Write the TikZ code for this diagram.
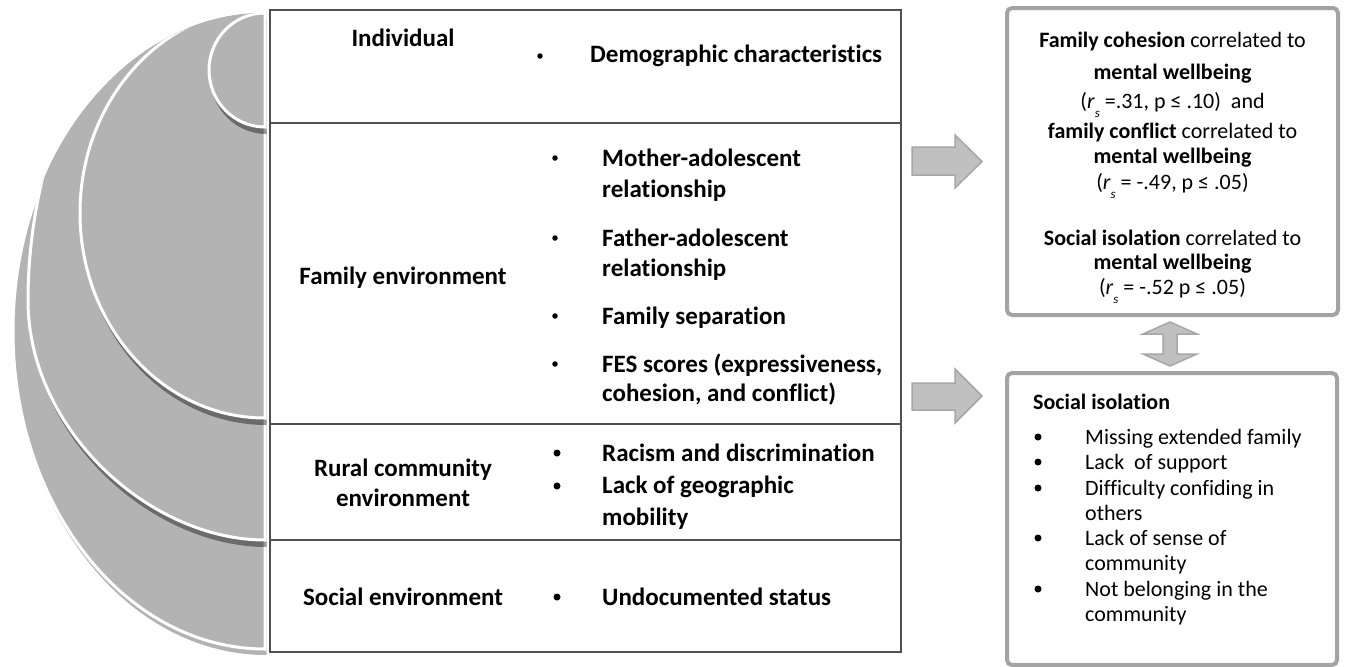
\documentclass[tikz,border=0pt]{standalone}
\usepackage{fontspec}
\setmainfont{Carlito}[Ligatures=CommonOff]
\definecolor{ringfill}{HTML}{B3B3B3}
\definecolor{rulegray}{HTML}{505050}
\definecolor{boxrim}{HTML}{A3A3A3}
\definecolor{arrowfill}{HTML}{C0C0C0}
\definecolor{arrowrim}{HTML}{A6A6A6}
\begin{document}
\begin{tikzpicture}[x=1pt,y=-1pt,
  ring/.style={fill=ringfill,draw=white,line width=3pt},
  ringshadow/.style={fill=black,fill opacity=0.4,shift={(1.5,7)}},
  tabline/.style={draw=rulegray,line width=1.3pt},
  lab/.style={font=\fontsize{25}{30}\selectfont\bfseries,inner sep=0pt,anchor=base},
  item/.style={font=\fontsize{25}{30}\selectfont\bfseries,inner sep=0pt,anchor=base west},
  dotsmall/.style={circle,fill=black,inner sep=0pt,minimum size=5.5pt},
  dotbig/.style={circle,fill=black,inner sep=0pt,minimum size=7pt},
  boxtext/.style={font=\fontsize{22}{26}\selectfont,inner sep=0pt,anchor=base},
  listtext/.style={font=\fontsize{22}{26}\selectfont,inner sep=0pt,anchor=base west},
  panel/.style={draw=boxrim,line width=4pt,rounded corners=5pt,fill=white},
  blockarrow/.style={fill=arrowfill,draw=arrowrim,line width=1.5pt,line join=miter},
]
\useasboundingbox (0,0) rectangle (1345,667);
\fill[white] (0,0) rectangle (1345,667);

% ---- nested half discs on the left ----
\fill[black,fill opacity=0.3,shift={(1.5,6)}] (265,13) arc[start angle=270,end angle=90,x radius=252,y radius=318] -- cycle;
\path[ring] (265,13) arc[start angle=270,end angle=90,x radius=252,y radius=318] -- cycle;
\begin{scope}
  \clip (265,13) arc[start angle=270,end angle=90,x radius=252,y radius=318] -- (272,649) -- (272,13) -- cycle;
  % rural community
  \fill[ringshadow] (265,540) .. controls (150,540) and (28,430) .. (28,300)
        .. controls (28,200) and (60,60) .. (150,0) -- (265,-10) -- cycle;
  \path[ring] (265,540) .. controls (150,540) and (28,430) .. (28,300)
        .. controls (28,200) and (60,60) .. (150,0) -- (265,-10) -- cycle;
  % family
  \fill[ringshadow] (265,8) arc[start angle=270,end angle=90,x radius=185,y radius=205] -- cycle;
  \path[ring] (265,8) arc[start angle=270,end angle=90,x radius=185,y radius=205] -- cycle;
  % individual
  \fill[ringshadow] (265,13) arc[start angle=270,end angle=90,x radius=56,y radius=57] -- cycle;
  \path[ring] (265,13) arc[start angle=270,end angle=90,x radius=56,y radius=57] -- cycle;
\end{scope}

% ---- table ----
\draw[tabline] (270,10) rectangle (901,652);
\draw[tabline] (270,123) -- (901,123);
\draw[tabline] (270,424) -- (901,424);
\draw[tabline] (270,540) -- (901,540);

% row: individual
\node[lab] (lind) at (403,46) {Individual};
\node[dotsmall] (bind) at (540,56) {};
\node[item] (tind) at (590,62) {Demographic characteristics};

% row: family
\node[lab] (lfam) at (403,284) {Family environment};
\node[dotsmall] (bfam1) at (555,158) {};
\node[item] (tfam1a) at (602,166) {Mother-adolescent};
\node[item] (tfam1b) at (602,197) {relationship};
\node[dotsmall] (bfam2) at (555,238) {};
\node[item] (tfam2a) at (602,246) {Father-adolescent};
\node[item] (tfam2b) at (602,276) {relationship};
\node[dotsmall] (bfam3) at (555,316) {};
\node[item] (tfam3) at (602,324) {Family separation};
\node[dotsmall] (bfam4) at (555,364) {};
\node[item] (tfam4a) at (602,372) {FES scores (expressiveness,};
\node[item] (tfam4b) at (602,401) {cohesion, and conflict)};

% row: rural community
\node[lab] (lrur1) at (403,476) {Rural community};
\node[lab] (lrur2) at (403,506) {environment};
\node[dotbig] (brur1) at (557,453) {};
\node[item] (trur1) at (602,461) {Racism and discrimination};
\node[dotbig] (brur2) at (557,486) {};
\node[item] (trur2a) at (602,493) {Lack of geographic};
\node[item] (trur2b) at (602,525) {mobility};

% row: social
\node[lab] (lsoc) at (403,605) {Social environment};
\node[dotbig] (bsoc) at (557,597) {};
\node[item] (tsoc) at (602,605) {Undocumented status};

% ---- block arrows ----
\path[blockarrow] (912,147) -- (955,147) -- (955,135) -- (982,161.5) -- (955,188) -- (955,175) -- (912,175) -- cycle;
\path[blockarrow] (912,383) -- (955,383) -- (955,369) -- (982,396) -- (955,423) -- (955,410) -- (912,410) -- cycle;

% ---- results panel ----
\path[panel] (1007,8) rectangle (1338,315);
\node[boxtext] (r1) at (1172.5,47) {\textbf{Family cohesion} correlated to};
\node[boxtext] (r2) at (1172.5,79) {\textbf{mental wellbeing}};
\node[boxtext] (r3) at (1172.5,108) {(\textit{r}\raisebox{-0.45em}{\fontsize{13}{13}\selectfont\textit{s}} =.31, p ≤ .10)\ \ and};
\node[boxtext] (r4) at (1172.5,138) {\textbf{family conflict} correlated to};
\node[boxtext] (r5) at (1172.5,163) {\textbf{mental wellbeing}};
\node[boxtext] (r6) at (1172.5,189) {(\textit{r}\raisebox{-0.45em}{\fontsize{13}{13}\selectfont\textit{s}} = -.49, p ≤ .05)};
\node[boxtext] (r7) at (1172.5,245) {\textbf{Social isolation} correlated to};
\node[boxtext] (r8) at (1172.5,269) {\textbf{mental wellbeing}};
\node[boxtext] (r9) at (1172.5,294) {(\textit{r}\raisebox{-0.45em}{\fontsize{13}{13}\selectfont\textit{s}} = -.52 p ≤ .05)};

% ---- two-way arrow between panels ----
\path[blockarrow] (1170,322) -- (1197,334) -- (1177,334) -- (1177,354) -- (1197,354) -- (1170,366) -- (1143,354) -- (1163,354) -- (1163,334) -- (1143,334) -- cycle;

% ---- social isolation panel ----
\path[panel] (1007,373) rectangle (1337,665);
\node[listtext,font=\fontsize{22}{26}\selectfont\bfseries] (sh) at (1033,409) {Social isolation};
\node[dotbig] (s1d) at (1038,437) {};
\node[listtext] (s1) at (1085,444) {Missing extended family};
\node[dotbig] (s2d) at (1038,462) {};
\node[listtext] (s2) at (1085,469) {Lack\ \ of support};
\node[dotbig] (s3d) at (1038,488) {};
\node[listtext] (s3a) at (1085,495) {Difficulty confiding in};
\node[listtext] (s3b) at (1085,520) {others};
\node[dotbig] (s4d) at (1038,538) {};
\node[listtext] (s4a) at (1085,545) {Lack of sense of};
\node[listtext] (s4b) at (1085,570) {community};
\node[dotbig] (s5d) at (1038,589) {};
\node[listtext] (s5a) at (1085,596) {Not belonging in the};
\node[listtext] (s5b) at (1085,621) {community};
\end{tikzpicture}
\end{document}
